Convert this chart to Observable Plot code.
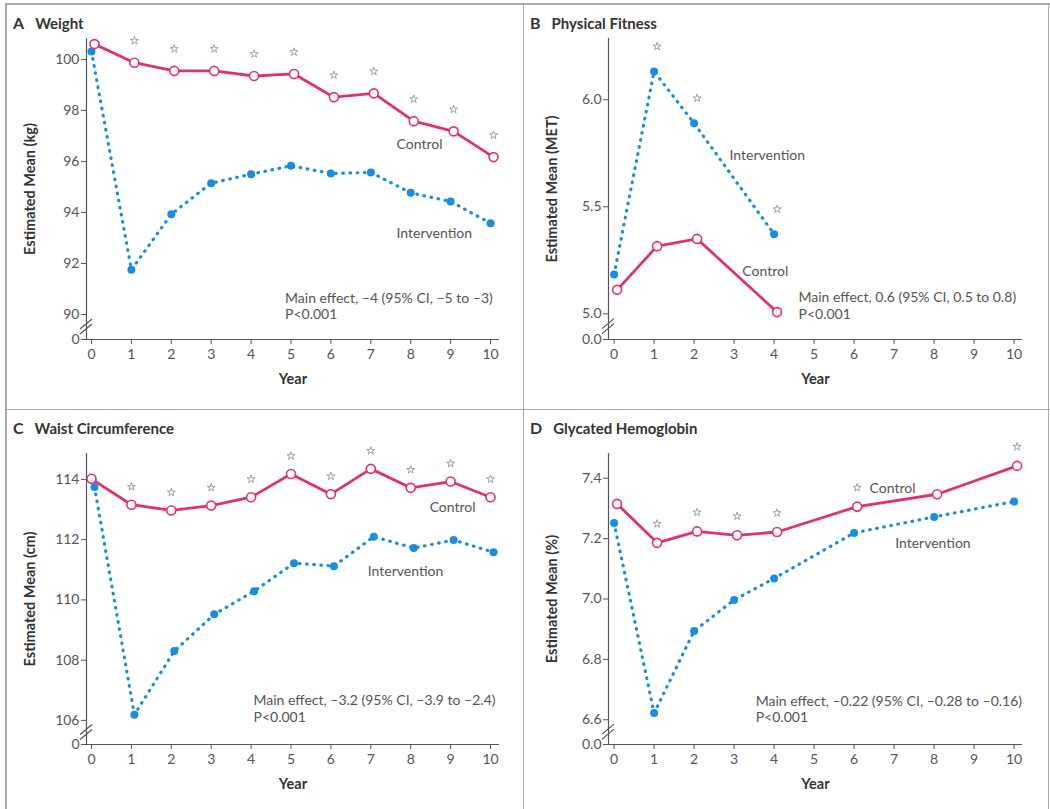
<!DOCTYPE html>
<html><head><meta charset="utf-8">
<script src="https://cdn.jsdelivr.net/npm/d3@7"></script>
<script src="https://cdn.jsdelivr.net/npm/@observablehq/plot@0.6"></script>
<style>
body{margin:0;background:#fff;font-family:Lato,"Open Sans",sans-serif;}
#root{position:relative;width:1050px;height:809px;overflow:hidden;}
.panel{position:absolute;}
.panel svg{display:block;}
.title{position:absolute;font-size:15px;color:#333;font-weight:700;white-space:nowrap;}
.title .letter{font-size:16px;font-weight:700;margin-right:11px;}
.rule{position:absolute;background:#a8a8a8;}
</style></head>
<body><div id="root"></div>
<script>
// ---- data ----
const years = [0,1,2,3,4,5,6,7,8,9,10];
const xTicks = [0,1,2,3,4,5,6,7,8,9,10];

const weightControl      = [100.6, 99.87, 99.55, 99.55, 99.35, 99.43, 98.52, 98.67, 97.58, 97.18, 96.17];
const weightIntervention = [100.31, 91.75, 93.93, 95.15, 95.5, 95.83, 95.53, 95.57, 94.77, 94.43, 93.58];
const weightStars = [1,2,3,4,5,6,7,8,9,10];
const weightTicks = [90, 92, 94, 96, 98, 100];

const fitnessYears = [0,1,2,4];
const fitnessControl      = [5.112, 5.316, 5.35, 5.008];
const fitnessIntervention = [5.184, 6.132, 5.89, 5.372];
const fitnessStars = [1,2,4];
const fitnessTicks = [5.0, 5.5, 6.0];

const waistControl      = [114.02, 113.16, 112.97, 113.13, 113.41, 114.18, 113.51, 114.35, 113.72, 113.93, 113.41];
const waistIntervention = [113.75, 106.19, 108.3, 109.52, 110.29, 111.22, 111.12, 112.1, 111.72, 111.99, 111.58];
const waistStars = [1,2,3,4,5,6,7,8,9,10];
const waistTicks = [106, 108, 110, 112, 114];

const hbaYears = [0,1,2,3,4,6,8,10];
const hbaControl      = [7.315, 7.186, 7.224, 7.211, 7.222, 7.306, 7.347, 7.441];
const hbaIntervention = [7.252, 6.622, 6.894, 6.997, 7.068, 7.219, 7.272, 7.323];
const hbaStars = [1,2,3,4,6,10];
const hbaTicks = [6.6, 6.8, 7.0, 7.2, 7.4];

const RED = "#e0336b", BLUE = "#1a8de3", INK = "#333", GREY = "#555";

const panels = [
  {letter:"A", title:"Weight", left:6, top:4, width:517, height:405, mt:34, mb:70, ml:80, mr:24,
   xDomain:[-0.125, 10.225], yFloor:89.02, yTop:100.82, ticks:weightTicks, floorLabel:"0", fmt:d=>String(d),
   years, control:weightControl, intervention:weightIntervention, stars:weightStars, starDy:-22, cDx:3, iDx:0,
   yLabel:"Estimated Mean (kg)",
   lblControl:[8.22, 96.67], lblIntervention:[8.59, 93.18], lblMain:[4.85, 90.35],
   main:"Main effect, \u20134 (95% CI, \u20135 to \u20133)\nP<0.001"},
  {letter:"B", title:"Physical Fitness", left:523, top:4, width:526, height:405, mt:34, mb:70, ml:85, mr:27,
   xDomain:[-0.14, 10.21], yFloor:4.88, yTop:6.286, ticks:fitnessTicks, floorLabel:"0.0", fmt:d=>d.toFixed(1),
   years:fitnessYears, control:fitnessControl, intervention:fitnessIntervention, stars:fitnessStars, starDy:-25, cDx:3, iDx:0,
   yLabel:"Estimated Mean (MET)",
   lblControl:[3.78, 5.198], lblIntervention:[3.83, 5.74], lblMain:[4.61, 5.039],
   main:"Main effect, 0.6 (95% CI, 0.5 to 0.8)\nP<0.001"},
  {letter:"C", title:"Waist Circumference", left:6, top:409, width:517, height:400, mt:44, mb:65, ml:80, mr:24,
   xDomain:[-0.125, 10.225], yFloor:105.2, yTop:114.86, ticks:waistTicks, floorLabel:"0", fmt:d=>String(d),
   years, control:waistControl, intervention:waistIntervention, stars:waistStars, starDy:-18, cDx:0, iDx:3,
   yLabel:"Estimated Mean (cm)",
   lblControl:[9.05, 113.07], lblIntervention:[7.87, 110.95], lblMain:[4.06, 106.4],
   main:"Main effect, \u20133.2 (95% CI, \u20133.9 to \u20132.4)\nP<0.001"},
  {letter:"D", title:"Glycated Hemoglobin", left:523, top:409, width:526, height:400, mt:44, mb:65, ml:85, mr:27,
   xDomain:[-0.14, 10.21], yFloor:6.518, yTop:7.482, ticks:hbaTicks, floorLabel:"0.0", fmt:d=>d.toFixed(1),
   years:hbaYears, control:hbaControl, intervention:hbaIntervention, stars:hbaStars, starDy:-19, cDx:3, iDx:0,
   yLabel:"Estimated Mean (%)",
   lblControl:[6.96, 7.366], lblIntervention:[7.97, 7.184], lblMain:[3.54, 6.637],
   main:"Main effect, \u20130.22 (95% CI, \u20130.28 to \u20130.16)\nP<0.001"}
];

function breakMark(xv, yv) {
  return (index, scales) => {
    const x = scales.x(xv), y = scales.y(yv);
    const g = d3.create("svg:g").attr("stroke", GREY).attr("stroke-width", 1.2).attr("fill", "none");
    for (const off of [-2.5, 2.5]) {
      g.append("line").attr("x1", x - 6).attr("y1", y + off + 5).attr("x2", x + 6).attr("y2", y + off - 5);
    }
    return g.node();
  };
}

function makePanel(c) {
  const ctl = c.years.map((year, i) => ({year, value: c.control[i]}));
  const itv = c.years.map((year, i) => ({year, value: c.intervention[i]}));
  const stars = c.stars.map(year => {
    const i = c.years.indexOf(year);
    return {year, value: Math.max(c.control[i], c.intervention[i])};
  });
  const yTicks = [c.yFloor, ...c.ticks];
  const labels = [
    {x: c.lblControl[0], y: c.lblControl[1], t: "Control"},
    {x: c.lblIntervention[0], y: c.lblIntervention[1], t: "Intervention"}
  ];
  return Plot.plot({
    width: c.width, height: c.height,
    marginTop: c.mt, marginBottom: c.mb, marginLeft: c.ml, marginRight: c.mr,
    style: {fontFamily: "Lato, 'Open Sans', sans-serif", fontSize: "14px", color: GREY, background: "transparent", overflow: "visible"},
    x: {domain: c.xDomain},
    y: {domain: [c.yFloor, c.yTop]},
    marks: [
      Plot.ruleX([c.xDomain[0]], {stroke: GREY, strokeWidth: 1.2}),
      Plot.ruleY([c.yFloor], {stroke: GREY, strokeWidth: 1.2}),
      Plot.axisX({ticks: xTicks, tickSize: 5, tickPadding: 5, label: null, tickFormat: d => String(d), fontSize: 14}),
      Plot.axisY({ticks: yTicks, tickSize: 5, tickPadding: 2, label: null, fontSize: 14,
                  tickFormat: d => d === c.yFloor ? c.floorLabel : c.fmt(d)}),
      breakMark(c.xDomain[0], (c.yFloor + c.ticks[0]) / 2),
      Plot.text([c.yLabel], {frameAnchor: "left", textAnchor: "middle", rotate: -90, dx: -56, fontWeight: "bold", fontSize: 14.5, fill: INK}),
      Plot.text(["Year"], {frameAnchor: "bottom", textAnchor: "middle", dy: 44, fontWeight: "bold", fontSize: 14.5, fill: INK}),
      Plot.line(itv, {x: "year", y: "value", stroke: BLUE, strokeWidth: 3.2, strokeDasharray: "0.6,6.6", strokeLinecap: "round", dx: c.iDx}),
      Plot.line(ctl, {x: "year", y: "value", stroke: RED, strokeWidth: 2.8, dx: c.cDx}),
      Plot.dot(itv, {x: "year", y: "value", fill: BLUE, r: 4, dx: c.iDx}),
      Plot.dot(ctl, {x: "year", y: "value", fill: "white", stroke: RED, strokeWidth: 1.6, r: 4.5, dx: c.cDx}),
      Plot.dot(stars, {x: "year", y: "value", symbol: "star", r: 2.5, fill: "white", stroke: "#8a8a8a", strokeWidth: 0.8, dy: c.starDy, dx: c.cDx}),
      Plot.text(labels, {x: "x", y: "y", text: "t", fill: GREY, fontSize: 14}),
      Plot.text([c.main], {x: () => c.lblMain[0], y: () => c.lblMain[1], textAnchor: "start", lineHeight: 1.2, fill: GREY, fontSize: 14})
    ]
  });
}

const root = document.getElementById("root");
function rule(l, t, w, h) {
  const d = document.createElement("div");
  d.className = "rule";
  Object.assign(d.style, {left: l + "px", top: t + "px", width: w + "px", height: h + "px"});
  root.appendChild(d);
}
for (const c of panels) {
  const p = document.createElement("div");
  p.className = "panel";
  Object.assign(p.style, {left: c.left + "px", top: c.top + "px", width: c.width + "px", height: c.height + "px"});
  p.appendChild(makePanel(c));
  const t = document.createElement("div");
  t.className = "title";
  t.style.left = "7px";
  t.style.top = "9px";
  t.innerHTML = `<span class="letter">${c.letter}</span>${c.title}`;
  p.appendChild(t);
  root.appendChild(p);
}
rule(5, 3, 1045, 1.5);
rule(5, 3, 1.5, 806);
rule(1047.5, 3, 1.5, 806);
rule(522.5, 3, 1.2, 806);
rule(5, 408.5, 1045, 1.2);
</script>
</body></html>
